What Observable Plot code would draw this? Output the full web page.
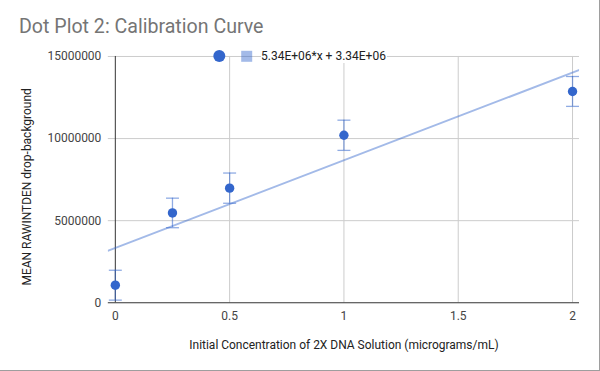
<!DOCTYPE html>
<html>
<head>
<meta charset="utf-8">
<script src="https://cdn.jsdelivr.net/npm/d3@7"></script>
<script src="https://cdn.jsdelivr.net/npm/@observablehq/plot@0.6"></script>
<style>
  html, body { margin: 0; padding: 0; background: #fff; }
  #wrap { position: relative; width: 600px; height: 371px; overflow: hidden; font-family: Roboto, sans-serif; box-sizing: border-box; border-right: 1px solid #9e9e9e; border-bottom: 1px solid #9e9e9e; }
  #title { position: absolute; left: 19px; top: 16.6px; font-size: 19.6px; line-height: 1; color: #757575; white-space: nowrap; }
  #chart { position: absolute; left: 0; top: 40px; }
  #legend { position: absolute; left: 0; top: 0; width: 600px; height: 80px; pointer-events: none; }
  #legend .txt { position: absolute; left: 261px; top: 49px; font-size: 12px; line-height: 14px; color: #222; background: #fff; padding-right: 1px; white-space: nowrap; }
</style>
</head>
<body>
<div id="wrap">
  <div id="title">Dot Plot 2: Calibration Curve</div>
  <div id="chart"></div>
  <div id="legend"></div>
</div>
<script>
// Data
const concentrations = [0, 0.25, 0.5, 1, 2];
const meanValues = [1070000, 5470000, 6980000, 10200000, 12870000];
const errorValues = [910000, 900000, 920000, 920000, 910000];
const slope = 5.34e6;
const intercept = 3.34e6;
const trendLabel = "5.34E+06*x + 3.34E+06";
const xTicks = [0, 0.5, 1, 1.5, 2];
const yTicks = [0, 5000000, 10000000, 15000000];
const title = "Dot Plot 2: Calibration Curve";
const xLabel = "Initial Concentration of 2X DNA Solution (micrograms/mL)";
const yLabel = "MEAN RAWINTDEN drop-background";

const blue = "#3366cc";
const rows = concentrations.map((x, i) => ({
  x, y: meanValues[i], lo: meanValues[i] - errorValues[i], hi: meanValues[i] + errorValues[i]
}));
const xDomain = [-0.0306, 2.0306];
const trend = xDomain.map(x => ({x, y: slope * x + intercept}));

const capSymbol = {
  draw(ctx, size) {
    const w = Math.sqrt(size / Math.PI);
    ctx.moveTo(-w, 0);
    ctx.lineTo(w, 0);
  }
};

const chart = Plot.plot({
  width: 600,
  height: 331,
  marginTop: 16,
  marginBottom: 68.3,
  marginLeft: 108,
  marginRight: 20,
  style: { fontFamily: "Roboto, sans-serif", fontSize: "12px", background: "transparent" },
  x: { domain: xDomain, ticks: xTicks, tickSize: 0, tickPadding: 9, tickFormat: d => String(d), label: null },
  y: { domain: [0, 15000000], ticks: yTicks, tickSize: 0, tickPadding: 7, tickFormat: d3.format("d"), label: null },
  marks: [
    Plot.gridX(xTicks.filter(d => d !== 0), { stroke: "#cccccc", strokeOpacity: 1, strokeWidth: 1 }),
    Plot.gridY(yTicks.filter(d => d !== 0), { stroke: "#cccccc", strokeOpacity: 1, strokeWidth: 1 }),
    Plot.ruleX([0], { y1: 0, y2: 15000000, stroke: "#333333", strokeWidth: 1 }),
    Plot.ruleY([0], { stroke: "#333333", strokeWidth: 1 }),
    Plot.line(trend, { x: "x", y: "y", stroke: blue, strokeOpacity: 0.45, strokeWidth: 2, clip: true }),
    Plot.ruleX(rows, { x: "x", y1: "lo", y2: "hi", stroke: blue, strokeOpacity: 0.55, strokeWidth: 1.3 }),
    Plot.dot(rows, { x: "x", y: "lo", symbol: capSymbol, r: 6.5, stroke: blue, strokeOpacity: 0.55, strokeWidth: 1.3, fill: "none" }),
    Plot.dot(rows, { x: "x", y: "hi", symbol: capSymbol, r: 6.5, stroke: blue, strokeOpacity: 0.55, strokeWidth: 1.3, fill: "none" }),
    Plot.dot(rows, { x: "x", y: "y", r: 4.7, fill: blue, stroke: "none" }),
    Plot.axisX({ ticks: xTicks, tickSize: 0, tickPadding: 9, tickFormat: d => String(d), fill: "#444", label: null }),
    Plot.axisY({ ticks: yTicks, tickSize: 0, tickPadding: 7, tickFormat: d3.format("d"), fill: "#444", label: null }),
    Plot.text([xLabel], { frameAnchor: "bottom", dy: 42, lineAnchor: "middle", text: d => d, fill: "#222", fontSize: 12 }),
    Plot.text([yLabel], { frameAnchor: "left", dx: -81.5, dy: 7.3, rotate: -90, lineAnchor: "middle", textAnchor: "middle", text: d => d, fill: "#222", fontSize: 12 })
  ]
});
document.getElementById("chart").appendChild(chart);

// Legend
const legend = document.getElementById("legend");
legend.innerHTML =
  `<svg width="600" height="80" style="position:absolute;left:0;top:0">
     <circle cx="219.3" cy="56" r="6" fill="${blue}"></circle>
     <rect x="241.2" y="50.8" width="11" height="11" fill="${blue}" fill-opacity="0.45"></rect>
   </svg>
   <div class="txt"></div>`;
legend.querySelector(".txt").textContent = trendLabel;
</script>
</body>
</html>
